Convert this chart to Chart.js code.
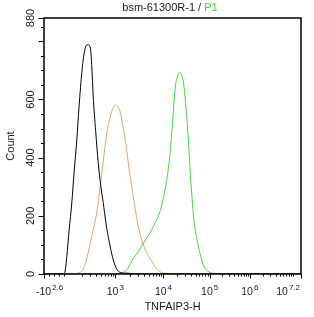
<!DOCTYPE html>
<html><head><meta charset="utf-8">
<script src="https://cdn.jsdelivr.net/npm/chart.js@4"></script>
<style>html,body{margin:0;padding:0;background:#fff}#wrap{width:314px;height:317px;position:relative}</style>
</head><body><div id="wrap"><canvas id="c" width="314" height="317"></canvas></div>
<script>
// ---- text ----
const titleMain = 'bsm-61300R-1 / ';
const titleGate = 'P1';
const xTitle = 'TNFAIP3-H';
const yTitle = 'Count';

// ---- axes (x is in display channels of the biexponential axis, 0..256) ----
const xMin = 0, xMax = 256;
const xTickPos  = [0, 71, 119, 165, 205, 256];
const xTickBase = ['-10', '10', '10', '10', '10', '10'];
const xTickExp  = ['2.6', '3', '4', '5', '6', '7.2'];
const decadePos = [23, 71, 119, 165, 205, 248];
const linearMinor = [5, 10, 15, 20];
const yMin = 0, yMax = 880;
const yTicks = [0, 200, 400, 600, 800, 880];
const yTickLabels = ['0', '200', '400', '600', '', '880'];
const yMinorStep = 50;

// ---- series (channel, count) ----
const blackX = [0, 19, 21, 22.7, 25, 27.7, 30, 32.7, 35, 37.7, 39.5, 41, 42.5, 44, 45.5, 46.5, 47.5, 49, 51.5, 54, 56.5, 59, 61.5, 64, 66.5, 69, 71, 73, 75.5, 78, 82, 86, 90, 256];
const blackY = [0, 0, 10, 60, 150, 245, 350, 462, 580, 694, 748, 775, 787, 788, 784, 770, 720, 611, 490, 383, 305, 245, 180, 128, 85, 48, 28, 14, 6, 3, 3, 2, 0, 0];

const orangeX = [0, 29, 33, 36, 39, 42, 46, 49.5, 53, 55.5, 58, 60.5, 63, 65.5, 68, 70, 71.5, 73, 76, 78.5, 81, 84, 86.5, 89, 91.5, 94, 96.5, 99, 101.5, 104, 108, 110.5, 113, 116, 119, 126, 135, 256];
const orangeY = [0, 0, 2, 6, 16, 45, 105, 160, 220, 290, 357, 430, 495, 535, 564, 578, 582, 578, 557, 510, 460, 381, 320, 265, 210, 162, 128, 100, 80, 62, 41, 26, 14, 7, 3, 1, 0, 0];

const greenX = [0, 68, 74, 79, 83, 86, 89, 93, 97, 101, 106, 110, 114, 117, 119, 121, 123, 125, 126.5, 128, 129.5, 131, 133, 135, 137, 139, 141, 143, 144.5, 146, 147.5, 149, 151, 153, 155.5, 158, 160.5, 163, 168, 176, 256];
const greenY = [0, 0, 2, 6, 16, 36, 54, 72, 94, 117, 144, 170, 200, 232, 262, 298, 340, 395, 450, 520, 590, 648, 680, 693, 685, 656, 590, 505, 420, 333, 260, 196, 145, 107, 70, 38, 20, 10, 3, 0, 0];

const colBlack = '#000000', colOrange = '#EBA06A', colGreen = '#3FD23F';
const textCol = '#1a1a1a';
const FONT = '"Liberation Sans", Arial, sans-serif';

function pts(xs, ys) { return xs.map((x, i) => ({ x: x, y: ys[i] })); }

const axesPlugin = {
  id: 'flowAxes',
  afterDraw(chart) {
    const ctx = chart.ctx, xs = chart.scales.x, ys = chart.scales.y, a = chart.chartArea;
    ctx.save();
    // frame
    ctx.strokeStyle = '#000'; ctx.lineWidth = 1.5;
    ctx.strokeRect(a.left, a.top, a.right - a.left, a.bottom - a.top);
    ctx.lineWidth = 1;
    // x ticks
    const minor = [];
    linearMinor.forEach(v => minor.push(v));
    for (let d = 0; d < decadePos.length - 1; d++) {
      const p0 = decadePos[d], p1 = decadePos[d + 1];
      for (let k = 2; k <= 9; k++) minor.push(p0 + (p1 - p0) * Math.log10(k));
    }
    minor.push(decadePos[decadePos.length - 1]);
    ctx.beginPath();
    minor.forEach(v => {
      if (v <= xMin || v >= xMax) return;
      const px = Math.round(xs.getPixelForValue(v)) + 0.5;
      ctx.moveTo(px, a.bottom); ctx.lineTo(px, a.bottom + 2.5);
    });
    xTickPos.forEach(v => {
      const px = Math.round(xs.getPixelForValue(v)) + 0.5;
      ctx.moveTo(px, a.bottom); ctx.lineTo(px, a.bottom + 4.5);
    });
    // y ticks
    for (let v = yMin + yMinorStep; v < yMax; v += yMinorStep) {
      const py = Math.round(ys.getPixelForValue(v)) + 0.5;
      ctx.moveTo(a.left, py); ctx.lineTo(a.left - 3, py);
    }
    yTicks.forEach(v => {
      const py = Math.round(ys.getPixelForValue(v)) + 0.5;
      ctx.moveTo(a.left, py); ctx.lineTo(a.left - 5.5, py);
    });
    ctx.stroke();

    ctx.fillStyle = textCol;
    // x tick labels with exponent
    xTickPos.forEach((v, i) => {
      const px = xs.getPixelForValue(v);
      ctx.font = '10.5px ' + FONT;
      const wb = ctx.measureText(xTickBase[i]).width;
      ctx.font = '8px ' + FONT;
      const we = ctx.measureText(xTickExp[i]).width;
      const w = wb + 1 + we;
      let x0 = px - w / 2;
      x0 = Math.max(36, Math.min(x0, 300 - w));
      ctx.textAlign = 'left'; ctx.textBaseline = 'alphabetic';
      ctx.font = '10.5px ' + FONT;
      ctx.fillText(xTickBase[i], x0, 295);
      ctx.font = '8px ' + FONT;
      ctx.fillText(xTickExp[i], x0 + wb + 1, 289.5);
    });
    // y tick labels rotated
    ctx.font = '11px ' + FONT;
    ctx.textAlign = 'center'; ctx.textBaseline = 'middle';
    yTicks.forEach((v, i) => {
      if (!yTickLabels[i]) return;
      const py = ys.getPixelForValue(v);
      ctx.save(); ctx.translate(31, py); ctx.rotate(-Math.PI / 2);
      ctx.fillText(yTickLabels[i], 0, 0); ctx.restore();
    });
    // axis titles
    ctx.font = '11px ' + FONT;
    ctx.save(); ctx.translate(11, (a.top + a.bottom) / 2); ctx.rotate(-Math.PI / 2);
    ctx.fillText(yTitle, 0, 0); ctx.restore();
    ctx.fillText(xTitle, (a.left + a.right) / 2, 307);
    // title
    ctx.font = '11px ' + FONT;
    const w1 = ctx.measureText(titleMain).width, w2 = ctx.measureText(titleGate).width;
    const tx = 170 - (w1 + w2) / 2;
    ctx.textAlign = 'left';
    ctx.fillStyle = textCol; ctx.fillText(titleMain, tx, 8);
    ctx.fillStyle = colGreen; ctx.fillText(titleGate, tx + w1, 8);
    ctx.restore();
  }
};

const ds = (data, color) => ({
  data: data, borderColor: color, borderWidth: 1, pointRadius: 0, fill: false,
  cubicInterpolationMode: 'monotone', clip: 0
});

new Chart(document.getElementById('c'), {
  type: 'line',
  data: { datasets: [ds(pts(blackX, blackY), colBlack), ds(pts(orangeX, orangeY), colOrange), ds(pts(greenX, greenY), colGreen)] },
  options: {
    responsive: false, animation: false, devicePixelRatio: 1,
    layout: { padding: { left: 44, right: 13, top: 18, bottom: 43 } },
    plugins: { legend: { display: false }, tooltip: { enabled: false }, title: { display: false } },
    scales: {
      x: { type: 'linear', min: xMin, max: xMax, display: false },
      y: { type: 'linear', min: yMin, max: yMax, display: false }
    }
  },
  plugins: [axesPlugin]
});
</script></body></html>
